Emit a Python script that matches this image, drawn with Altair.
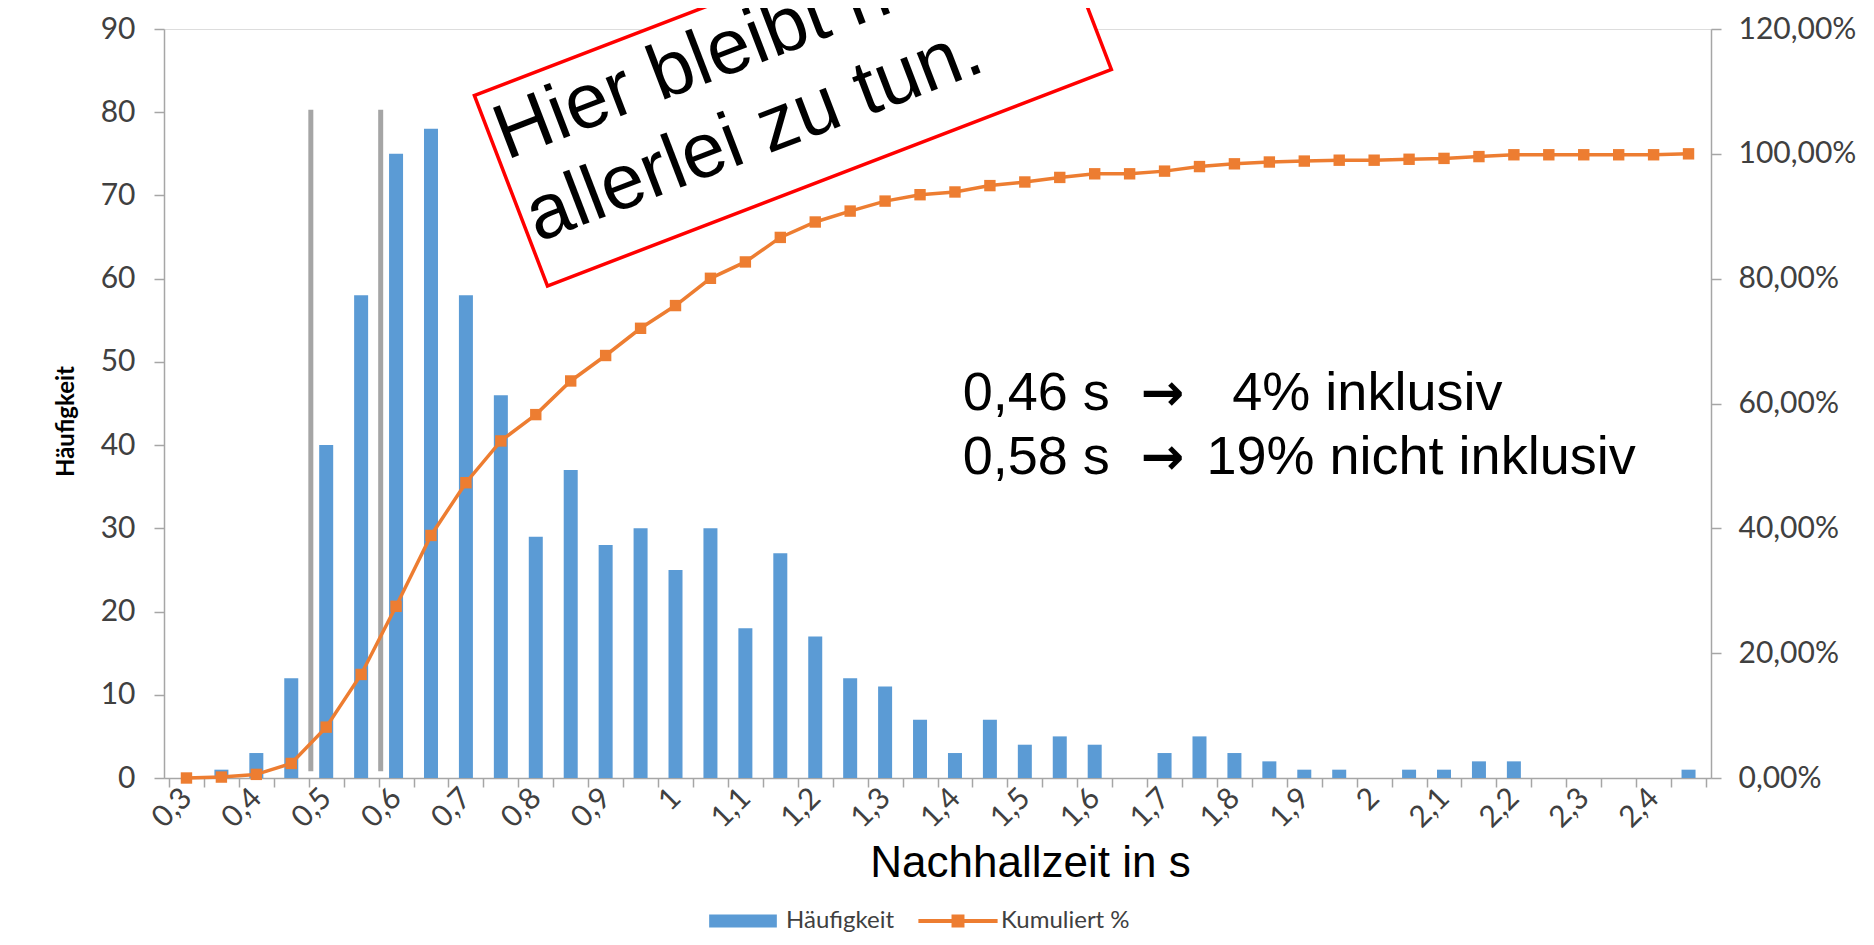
import json
import altair as alt
import pandas as pd

# ---------------- data ----------------
zeit = [0.3, 0.35, 0.4, 0.45, 0.5, 0.55, 0.6, 0.65, 0.7, 0.75,
        0.8, 0.85, 0.9, 0.95, 1.0, 1.05, 1.1, 1.15, 1.2, 1.25,
        1.3, 1.35, 1.4, 1.45, 1.5, 1.55, 1.6, 1.65, 1.7, 1.75,
        1.8, 1.85, 1.9, 1.95, 2.0, 2.05, 2.1, 2.15, 2.2, 2.25,
        2.3, 2.35, 2.4, 2.45]
haeufigkeit = [0, 1, 3, 12, 40, 58, 75, 78, 58, 46,
               29, 37, 28, 30, 25, 30, 18, 27, 17, 12,
               11, 7, 3, 7, 4, 5, 4, 0, 3, 5,
               3, 2, 1, 1, 0, 1, 1, 2, 2, 0,
               0, 0, 0, 1]
kumuliert = [0.00, 0.15, 0.58, 2.33, 8.15, 16.59, 27.51, 38.86, 47.31, 54.00,
             58.22, 63.61, 67.69, 72.05, 75.69, 80.06, 82.68, 86.61, 89.08, 90.83,
             92.43, 93.45, 93.89, 94.91, 95.49, 96.22, 96.80, 96.80, 97.23, 97.96,
             98.40, 98.69, 98.84, 98.98, 98.98, 99.13, 99.27, 99.56, 99.85, 99.85,
             99.85, 99.85, 99.85, 100.00]
achsen_labels = ["0,3", "0,4", "0,5", "0,6", "0,7", "0,8", "0,9", "1", "1,1", "1,2",
                 "1,3", "1,4", "1,5", "1,6", "1,7", "1,8", "1,9", "2", "2,1", "2,2",
                 "2,3", "2,4"]
serien = ["Häufigkeit", "Kumuliert %"]
grenzen = [0.478, 0.578]
grenze_von = [0.8, 0.8]
grenze_bis = [80.3, 80.3]
hinweis_links = ["0,46 s", "0,58 s"]
hinweis_rechts = ["4% inklusiv", "19% nicht inklusiv"]
pfeil = "\u2192"
kasten_text = ["Hier bleibt noch", "allerlei zu tun."]

# ---------------- layout / style ----------------
W, H = 1547, 749
X_DOM = [0.275, 2.475]
CW = W / len(zeit)
BLAU = "#5B9BD5"
ORANGE = "#ED7D31"
GRAU = "#A6A6A6"
TXT = "#404040"
LABFONT = "Lato"

df = pd.DataFrame({"zeit": zeit, "n": haeufigkeit, "kum": kumuliert})
df_g = pd.DataFrame({"x": grenzen, "y": grenze_von, "y2": grenze_bis})
# annotation anchor positions (in data units of the chart)
df_h1 = pd.DataFrame({"x": [1.411, 1.411], "y": [46.14, 38.45], "t": hinweis_links})
df_h2 = pd.DataFrame({"x": [1.666, 1.666], "y": [46.14, 38.45], "t": [pfeil, pfeil]})
df_h3 = pd.DataFrame({"x": [1.797, 1.760], "y": [46.14, 38.45], "t": hinweis_rechts})
df_k = pd.DataFrame({"x": [1.168], "y": [83.57]})
df_kt = pd.DataFrame({"x": [0.746], "y": [76.81]})
df_leg = pd.DataFrame({"serie": serien})

ticks = [round(X_DOM[0] + 0.05 * i, 3) for i in range(len(zeit) + 1)]
lab_arr = [achsen_labels[i // 2] if (i % 2 == 0 and i // 2 < len(achsen_labels)) else ""
           for i in range(len(ticks))]
label_expr = json.dumps(lab_arr, ensure_ascii=False) + "[round((datum.value - 0.275) / 0.05)]"

xs = alt.Scale(domain=X_DOM, nice=False, zero=False)
yls = alt.Scale(domain=[0, 90], nice=False)
yrs = alt.Scale(domain=[0, 120], nice=False)

x_axis = alt.Axis(values=ticks, labelExpr=label_expr, labelAngle=315, labelAlign="right",
                  labelBaseline="middle", labelOffset=CW / 2, labelPadding=6, tickSize=9,
                  tickColor=GRAU, domainColor=GRAU, tickWidth=1.5, domainWidth=1.5,
                  labelFont=LABFONT, labelFontSize=30, labelColor=TXT, grid=False,
                  labelOverlap=False, labelFlush=False, labelBound=False,
                  title="Nachhallzeit in s", titleFont="Liberation Sans", titleFontSize=44,
                  titleFontWeight="normal", titleColor="#000000", titleX=866, titleY=85,
                  titleAlign="center", titleBaseline="middle")
yl_axis = alt.Axis(values=list(range(0, 91, 10)), orient="left", grid=False,
                   domainColor=GRAU, tickColor=GRAU, tickWidth=1.5, domainWidth=1.5,
                   tickSize=10, labelPadding=19, labelFont=LABFONT, labelFontSize=30,
                   labelColor=TXT, title="Häufigkeit", titleFont=LABFONT, titleFontSize=24,
                   titleFontWeight="bold", titleColor="#000000", titleX=-98, titleY=392,
                   titleAlign="center", titleBaseline="middle")
yr_axis = alt.Axis(values=list(range(0, 121, 20)), orient="right", grid=False,
                   domainColor=GRAU, tickColor=GRAU, tickWidth=1.5, domainWidth=1.5,
                   tickSize=10, labelPadding=17, labelFont=LABFONT, labelFontSize=30,
                   labelColor=TXT, title="",
                   labelExpr="replace(format(datum.value, '.2f'), '.', ',') + '%'")


def xq(field):
    return alt.X(field, scale=xs, axis=x_axis)


def ylq(field):
    return alt.Y(field, scale=yls, axis=yl_axis)


bars = alt.Chart(df).mark_bar(width=14, color=BLAU).encode(x=xq("zeit:Q"), y=ylq("n:Q"))
rules = alt.Chart(df_g).mark_rule(color="#A5A5A5", strokeWidth=5).encode(
    x=xq("x:Q"), y=ylq("y:Q"), y2="y2:Q")

ANNOFONT = "Liberation Sans"
h1 = alt.Chart(df_h1).mark_text(align="left", baseline="middle", font=ANNOFONT,
                                fontSize=54, color="#000000").encode(
    x=xq("x:Q"), y=ylq("y:Q"), text="t:N")
h2 = alt.Chart(df_h2).mark_text(align="left", baseline="middle", font="DejaVu Sans",
                                fontWeight="bold", fontSize=52, color="#000000").encode(
    x=xq("x:Q"), y=ylq("y:Q"), text="t:N")
h3 = alt.Chart(df_h3).mark_text(align="left", baseline="middle", font=ANNOFONT,
                                fontSize=54, color="#000000").encode(
    x=xq("x:Q"), y=ylq("y:Q"), text="t:N")

BOX_PATH = "M-1,-0.3377H1V0.3377H-1Z"
kasten = alt.Chart(df_k).mark_point(shape=BOX_PATH, size=604 ** 2, angle=339, filled=True,
                                    fill="#FFFFFF", stroke="#FF0000", strokeWidth=3.5,
                                    opacity=1).encode(x=xq("x:Q"), y=ylq("y:Q"))
kasten_t = alt.Chart(df_kt).mark_text(text=kasten_text, align="left", baseline="middle",
                                      angle=339, font="Liberation Sans", fontSize=78,
                                      lineHeight=88, color="#000000").encode(
    x=xq("x:Q"), y=ylq("y:Q"))

P_BAR = "M-0.94,-0.18H0.94V0.18H-0.94Z"
P_LINE = ("M-1.1,-0.055H-0.18V-0.18H0.18V-0.055H1.1V0.055H0.18V0.18H-0.18V0.055H-1.1Z")
leg = alt.Legend(title=None, orient="none", legendX=543, legendY=856, direction="horizontal",
                 symbolSize=5184, symbolOpacity=1, symbolStrokeWidth=0, labelFont=LABFONT,
                 labelFontSize=24, labelColor=TXT, labelOffset=7, columnPadding=23,
                 padding=0)
legende = alt.Chart(df_leg).mark_point(opacity=0, filled=True).encode(
    color=alt.Color("serie:N", scale=alt.Scale(domain=serien, range=[BLAU, ORANGE]), legend=leg),
    shape=alt.Shape("serie:N", scale=alt.Scale(domain=serien, range=[P_BAR, P_LINE]), legend=leg),
)

links = alt.layer(bars, rules, kasten, kasten_t, h1, h2, h3, legende)

linie = alt.Chart(df).mark_line(color=ORANGE, strokeWidth=3.5).encode(
    x=xq("zeit:Q"), y=alt.Y("kum:Q", scale=yrs, axis=yr_axis))
punkte = alt.Chart(df).mark_point(shape="square", filled=True, size=130, color=ORANGE,
                                  opacity=1).encode(
    x=xq("zeit:Q"), y=alt.Y("kum:Q", scale=yrs, axis=yr_axis))
rechts = alt.layer(linie, punkte)

chart = alt.layer(links, rechts).resolve_scale(y="independent").properties(
    width=W, height=H,
    autosize=alt.AutoSizeParams(type="none"),
    padding={"left": 156, "top": 21, "right": 155, "bottom": 162},
).configure_view(strokeWidth=0).configure(background="#FFFFFF")

chart.save("out.html", embed_options={"renderer": "svg", "actions": False})
